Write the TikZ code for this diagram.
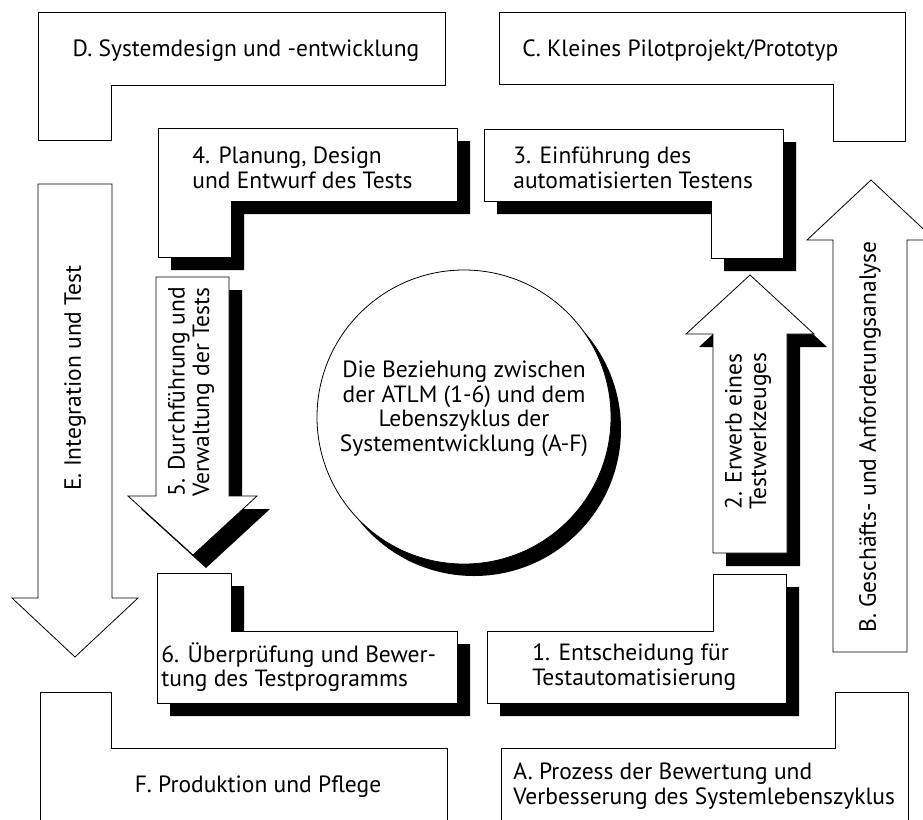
\documentclass[tikz,border=0pt]{standalone}
\usepackage{fontspec}
\setmainfont{PT Sans}
\usetikzlibrary{shadows}
\begin{document}
\begin{tikzpicture}[x=1pt,y=-1pt,line width=.8pt,
lshape/.style={draw,fill=white},
shblock/.style={draw,fill=white,drop shadow={shadow xshift=13pt,shadow yshift=-13pt,fill=black,opacity=1}},
lbl/.style={inner sep=0pt,align=left,font=\fontsize{23.5}{24.5}\selectfont},
vlbl/.style={lbl,rotate=90}]
\useasboundingbox (0,0) rectangle (923,819);
\clip (0,0) rectangle (923,819);
% life cycle A-F
\draw[lshape] (38,12) -- (445,12) -- (445,85) -- (111,85) -- (111,140) -- (38,140) -- cycle;
\draw[lshape] (499,12) -- (905,12) -- (905,141) -- (833,141) -- (833,84) -- (499,84) -- cycle;
\draw[lshape] (40,692) -- (111,692) -- (111,748) -- (447,748) -- (447,830) -- (40,830) -- cycle;
\draw[lshape] (501,748) -- (835,748) -- (835,692) -- (908,692) -- (908,830) -- (501,830) -- cycle;
\draw[lshape] (38,184) -- (112,184) -- (112,598) -- (138,598) -- (75,657) -- (12,598) -- (38,598) -- cycle;
\draw[lshape] (833,652) -- (833,240) -- (807,240) -- (871,180) -- (935,240) -- (907,240) -- (907,652) -- cycle;
% ATLM 1-6
\draw[shblock] (158,128) -- (457,128) -- (457,201) -- (231,201) -- (231,257) -- (158,257) -- cycle;
\draw[shblock] (484,129) -- (783,129) -- (783,258) -- (711,258) -- (711,201) -- (484,201) -- cycle;
\draw[shblock] (157,573) -- (231,573) -- (231,631) -- (457,631) -- (457,703) -- (157,703) -- cycle;
\draw[shblock] (487,631) -- (713,631) -- (713,574) -- (786,574) -- (786,703) -- (487,703) -- cycle;
\draw[shblock] (156,277) -- (229,277) -- (229,496) -- (257,496) -- (193,555) -- (128,496) -- (156,496) -- cycle;
\draw[shblock] (713,553) -- (713,334) -- (686,334) -- (750,275) -- (814,334) -- (787,334) -- (787,553) -- cycle;
\draw (464,417) node[circle,draw,fill=white,minimum size=294pt,
  drop shadow={shadow xshift=10pt,shadow yshift=-12pt,fill=black,opacity=1}] (circ) {};
% labels
\draw (246,56) node[lbl,anchor=base] (d) {D. Systemdesign und -entwicklung};
\draw (522,56) node[lbl,anchor=base west] (c) {C. Kleines Pilotprojekt/Prototyp};
\draw (258,792) node[lbl,anchor=base] (f) {F. Produktion und Pflege};
\draw (513,786) node[lbl,anchor=west] (a) {A. Prozess der Bewertung und\\Verbesserung des Systemlebenszyklus};
\draw (75,378) node[vlbl] (e) {E. Integration und Test};
\draw (870,437) node[vlbl] (b) {B. Geschäfts- und Anforderungsanalyse};
\draw (192,168) node[lbl,anchor=west] (p4) {4. Planung, Design\\und Entwurf des Tests};
\draw (513,168) node[lbl,anchor=west] (p3) {3. Einführung des\\automatisierten Testens};
\draw (161,667) node[lbl,anchor=west] (p6) {6. Überprüfung und Bewer-\\tung des Testprogramms};
\draw (532,667) node[lbl,anchor=west] (p1) {1. Entscheidung für\\Testautomatisierung};
\draw (191,497) node[vlbl,anchor=west] (p5) {5. Durchführung und\\Verwaltung der Tests};
\draw (748,510) node[vlbl,anchor=west] (p2) {2. Erwerb eines\\Testwerkzeuges};
\draw (464,409) node[lbl,align=center] (rel) {Die Beziehung zwischen\\der ATLM (1-6) und dem\\Lebenszyklus der\\Systementwicklung (A-F)};
\end{tikzpicture}
\end{document}
